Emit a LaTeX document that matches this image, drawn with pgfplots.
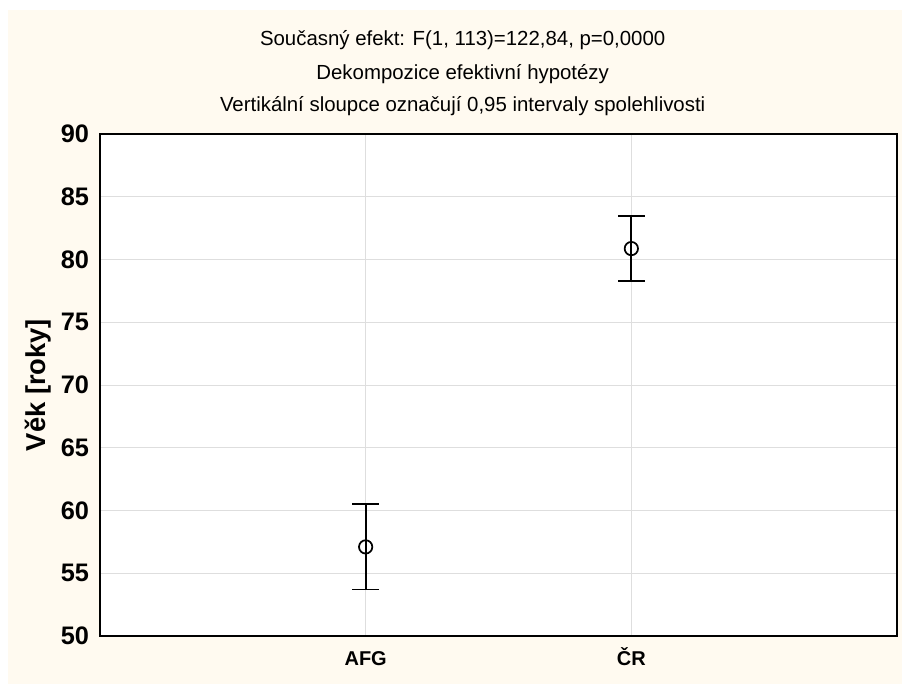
\documentclass[border=0pt]{standalone}
\usepackage{fontspec}
\setmainfont{Liberation Sans}
\usepackage{pgfplots}
\pgfplotsset{compat=1.18}
\definecolor{cream}{RGB}{255,250,240}
\definecolor{gridgray}{RGB}{222,222,222}
\begin{document}
\begin{tikzpicture}
\path[use as bounding box] (-75pt,-36pt) rectangle (601.5pt,477pt);
\fill[cream] (-69pt,-36pt) rectangle (601.5pt,469.5pt);
\begin{axis}[
  at={(0pt,0pt)}, anchor=south west,
  scale only axis, width=597.75pt, height=376.5pt,
  axis background/.style={fill=white},
  xmin=-1, xmax=2, ymin=50, ymax=90,
  xtick={0,1}, xticklabels={AFG,ČR},
  ytick={50,55,60,65,70,75,80,85,90},
  grid=major,
  major grid style={gridgray, line width=0.6pt},
  major tick length=0pt,
  axis line style={black, line width=1.6pt},
  /pgf/number format/assume math mode=true,
  yticklabel style={font=\fontsize{19}{21}\selectfont\bfseries, inner sep=0pt, xshift=-8pt},
  xticklabel style={font=\fontsize{15}{17}\selectfont\bfseries, inner sep=0pt, anchor=north, text height=12pt, text depth=0pt, yshift=-10pt},
  ylabel={Věk [roky]},
  ylabel style={font=\fontsize{20.5}{22}\selectfont\bfseries, at={(axis description cs:-0.0778,0.5)}, anchor=center},
]
\addplot[only marks, black, mark=o, mark size=5pt, mark options={fill=white, line width=1.3pt},
  error bars/.cd, y dir=both, y explicit,
  error bar style={line width=1.4pt},
  error mark options={line width=1.4pt, mark size=10pt, rotate=90}]
  coordinates {
    (0,57.1) +- (0,3.4)
    (1,80.87) +- (0,2.6)
  };
\end{axis}
\node[anchor=base, font=\fontsize{15.3}{17}\selectfont] at (272pt,442.5pt) {Současný efekt: F(1, 113)=122,84, p=0,0000};
\node[anchor=base, font=\fontsize{15.3}{17}\selectfont] at (272pt,417.6pt) {Dekompozice efektivní hypotézy};
\node[anchor=base, font=\fontsize{15.3}{17}\selectfont] at (272pt,393pt) {Vertikální sloupce označují 0,95 intervaly spolehlivosti};
\end{tikzpicture}
\end{document}
